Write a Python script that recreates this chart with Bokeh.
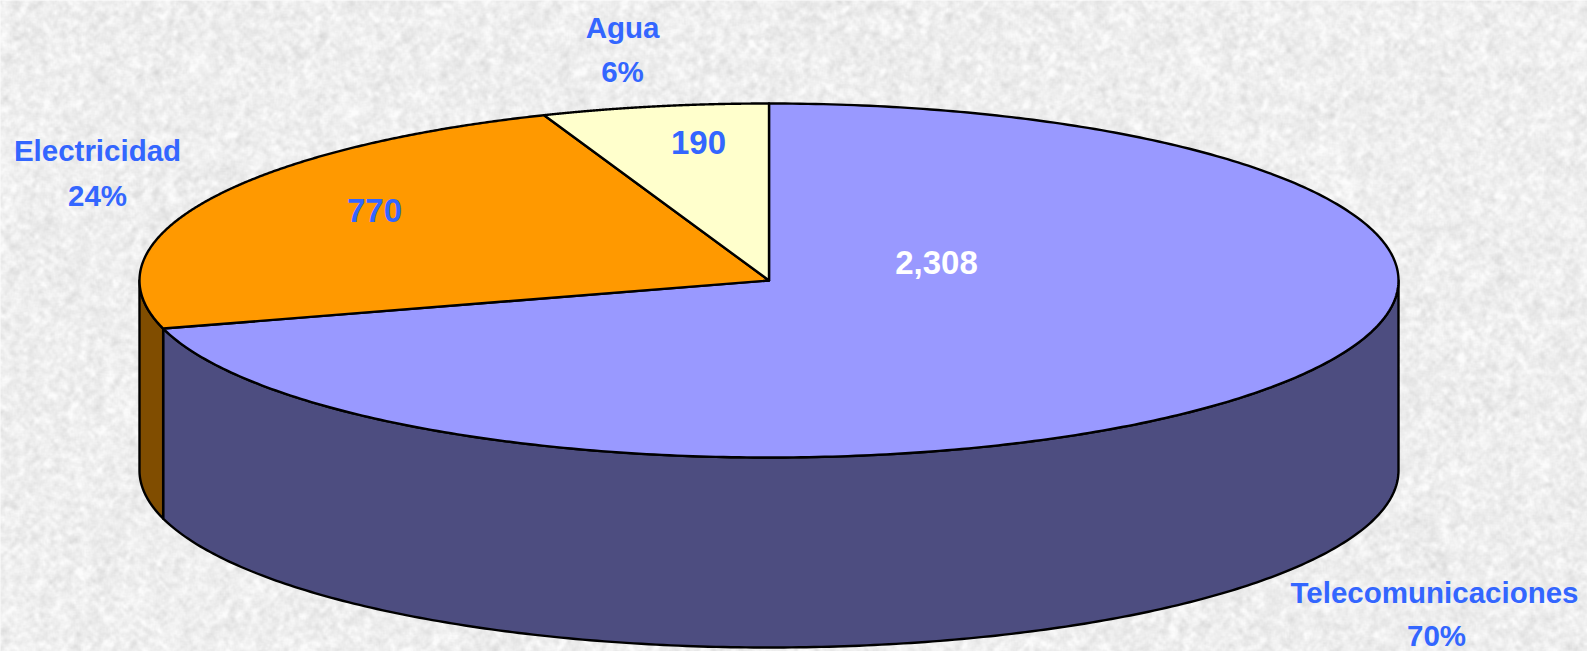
import numpy as np
from bokeh.plotting import figure
from bokeh.models import Range1d, ColumnDataSource
from bokeh.core.properties import value
from bokeh.embed import file_html
from bokeh.resources import INLINE

# ---- data
categories = ["Telecomunicaciones", "Electricidad", "Agua"]
values = [2308, 770, 190]
value_labels = ["2,308", "770", "190"]
percent_labels = ["70%", "24%", "6%"]

# ---- styles
top_colors = ["#9999FF", "#FF9900", "#FFFFCC"]
side_colors = ["#4D4D80", "#804D00", "#808066"]
label_color = "#3366FF"
value_colors = ["#FFFFFF", "#3366FF", "#3366FF"]

# ---- layout (reference pixel space, y measured from the top)
W, H = 1587, 651
CX, CY, RX, RY, DEPTH = 768.5, 280.0, 629.5, 177.0, 190.0
FONT = value("Liberation Sans")
FONT_PX = "29.5px"
cat_pos = [(1434, 592), (97, 150), (622, 27)]
pct_pos = [(1436, 635), (97, 195), (622, 71)]
val_pos = [(936, 262), (374, 210), (698, 142)]


def flip(y):
    return H - np.asarray(y, dtype=float)


def ex(t):
    return CX + RX * np.sin(t)


def ey(t, dz=0.0):
    return flip(CY - RY * np.cos(t) + dz)


p = figure(width=W, height=H, output_backend="svg", toolbar_location=None,
           x_range=Range1d(0, W), y_range=Range1d(0, H),
           min_border=0, outline_line_color=None, border_fill_color=None,
           x_axis_type=None, y_axis_type=None)
p.grid.visible = False

# ---- paper-like mottled background (decorative, not chart data)
yy, xx = np.mgrid[0:H + 8, 0:W + 8]
def hash_noise(a, b):
    v = np.sin(a * 12.9898 + b * 78.233) * 43758.5453
    return v - np.floor(v)
def box(a, k):
    for axis in (0, 1):
        c = np.cumsum(np.insert(a, 0, 0, axis=axis), axis=axis)
        if axis == 0:
            a = (c[k:, :] - c[:-k, :]) / k
            a = np.pad(a, ((k // 2, k - 1 - k // 2), (0, 0)), mode="edge")
        else:
            a = (c[:, k:] - c[:, :-k]) / k
            a = np.pad(a, ((0, 0), (k // 2, k - 1 - k // 2)), mode="edge")
    return a
n = hash_noise(xx.astype(float), yy.astype(float))
fine = box(n, 4) - 0.5
coarse = box(n, 9) - 0.5
g = np.clip(239 + fine * 60 + coarse * 60, 205, 252).astype(np.uint32)
img = ((255 << 24) | (g << 16) | (g << 8) | g).astype(np.uint32)
p.image_rgba(image=[img], x=-4, y=-4, dw=W + 8, dh=H + 8)

# ---- slice angles, clockwise from 12 o'clock, from the values
fractions = np.array(values, dtype=float) / sum(values)
edges = np.concatenate([[0.0], np.cumsum(fractions)]) * 2 * np.pi

# ---- side walls (only the front half, pi/2..3pi/2, is visible)
for i in range(len(values)):
    a0 = max(edges[i], np.pi / 2)
    a1 = min(edges[i + 1], 3 * np.pi / 2)
    if a1 <= a0:
        continue
    t = np.linspace(a0, a1, 240)
    xs = np.concatenate([ex(t), ex(t[::-1])])
    ys = np.concatenate([ey(t), ey(t[::-1], DEPTH)])
    p.patch(xs, ys, fill_color=side_colors[i], line_color="black", line_width=2.4,
            line_join="round")

# ---- top slices
for i in range(len(values)):
    t = np.linspace(edges[i], edges[i + 1], 360)
    xs = np.concatenate([[CX], ex(t)])
    ys = np.concatenate([[flip(CY)], ey(t)])
    p.patch(xs, ys, fill_color=top_colors[i], line_color="black", line_width=2.4,
            line_join="round")

# ---- texts
src = ColumnDataSource(dict(
    x=[c[0] for c in cat_pos] + [c[0] for c in pct_pos],
    y=flip([c[1] for c in cat_pos] + [c[1] for c in pct_pos]),
    t=categories + percent_labels))
p.text("x", "y", "t", source=src, text_font=FONT, text_font_style="bold",
       text_font_size=FONT_PX, text_color=label_color,
       text_align="center", text_baseline="middle")
src2 = ColumnDataSource(dict(x=[c[0] for c in val_pos], y=flip([c[1] for c in val_pos]),
                             t=value_labels, c=value_colors))
p.text("x", "y", "t", source=src2, text_font=FONT, text_font_style="bold",
       text_font_size="33px", text_color="c",
       text_align="center", text_baseline="middle")

open("out.html", "w").write(file_html(p, INLINE))
